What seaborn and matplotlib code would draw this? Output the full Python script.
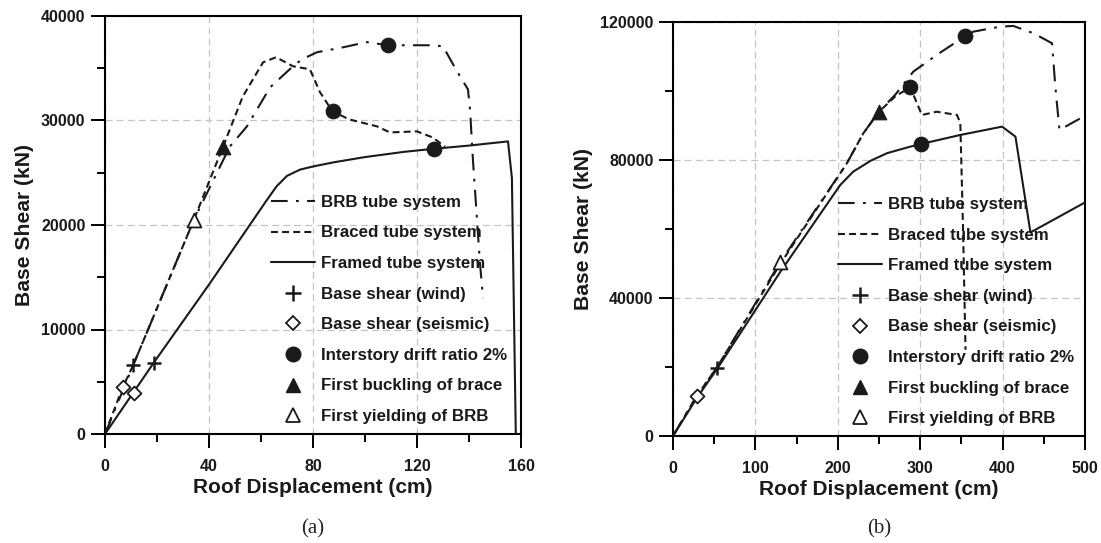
import numpy as np
import pandas as pd
import matplotlib
matplotlib.use("Agg")
import matplotlib.pyplot as plt
import seaborn as sns
from matplotlib.lines import Line2D
from matplotlib.ticker import MultipleLocator

# ---------------- data: panel (a) ----------------
framed_a_x = [0, 18.8, 40, 62, 66, 70, 75, 80, 88, 100, 115, 126.7, 140, 155, 156.5, 158]
framed_a_y = [0, 6840, 14300, 22300, 23700, 24700, 25300, 25600, 26000, 26500, 27000, 27300, 27600, 28000, 24500, 0]
braced_a_x = [0, 6.8, 10.9, 34.2, 45.4, 53, 60.8, 65.8, 72.3, 78.8, 82.7, 87.5, 94, 104.6, 109.6, 120, 126, 130.8]
braced_a_y = [0, 4470, 6620, 20500, 27500, 32300, 35570, 36050, 35190, 34900, 32700, 30870, 30100, 29440, 28860, 28960, 28380, 27500]
brb_a_x = [0, 10.9, 34.2, 48, 54.6, 63.5, 72.3, 75.8, 81.5, 91.5, 100.7, 108.8, 126, 130, 135.4, 139.6, 140.4, 141.5, 143, 144.2, 145.4]
brb_a_y = [0, 6620, 20500, 27500, 29440, 33170, 35190, 35860, 36530, 37000, 37500, 37200, 37200, 37100, 34700, 32980, 31060, 26270, 20800, 16400, 13000]
wind_a_x, wind_a_y = [10.9, 18.8], [6620, 6840]
seis_a_x, seis_a_y = [6.8, 11.3], [4470, 3900]
drift_a_x, drift_a_y = [87.5, 108.8, 126.7], [30870, 37200, 27300]
buck_a_x, buck_a_y = [45.4], [27500]
yield_a_x, yield_a_y = [34.2], [20500]

# ---------------- data: panel (b) ----------------
framed_b_x = [0, 28.8, 53.1, 130, 203, 218.7, 240, 260, 288, 301.3, 348.7, 399.4, 415.6, 433.8, 500]
framed_b_y = [0, 11000, 19300, 47500, 72760, 76620, 79800, 82000, 83870, 84650, 87260, 89670, 86770, 59000, 67700]
braced_b_x = [0, 28.8, 53.1, 130, 211, 231, 250, 270, 288, 302, 320, 344.7, 348.7, 352, 355]
braced_b_y = [0, 11600, 19800, 49800, 79050, 87750, 94000, 98500, 101100, 93050, 94000, 93050, 90650, 60000, 25000]
brb_b_x = [0, 28.8, 53.1, 130, 211, 231, 250, 270, 291.6, 320, 354, 364.5, 397, 413, 437.4, 460, 464, 469, 494.5, 500]
brb_b_y = [0, 11600, 19800, 50350, 79050, 87750, 94000, 99000, 105600, 110450, 115800, 117200, 118650, 118860, 116740, 113840, 101260, 88700, 92100, 93000]
wind_b_x, wind_b_y = [53.1], [19800]
seis_b_x, seis_b_y = [28.8], [11600]
drift_b_x, drift_b_y = [288, 354, 301.3], [101100, 115800, 84650]
buck_b_x, buck_b_y = [250], [94000]
yield_b_x, yield_b_y = [130], [50350]

labels = ["BRB tube system", "Braced tube system", "Framed tube system",
          "Base shear (wind)", "Base shear (seismic)", "Interstory drift ratio 2%",
          "First buckling of brace", "First yielding of BRB"]
captions = ["(a)", "(b)"]

sns.set_theme(style="ticks")
plt.rcParams['font.family'] = ['Liberation Sans', 'DejaVu Sans']
plt.rcParams['lines.scale_dashes'] = False
plt.rcParams['axes.edgecolor'] = 'black'

fig = plt.figure(figsize=(11.01, 5.43), dpi=100)
W, H = 1101, 543
axA = fig.add_axes([105 / W, 1 - 434 / H, 416 / W, 418 / H])
axB = fig.add_axes([673 / W, 1 - 436 / H, 412 / W, 414 / H])

DASH = (0, (5, 3))
DASHDOT = (0, (12, 6, 2, 6))
LW = 1.5
TXT = '#1a1a1a'


def draw(ax, lines, marks, xlim, ylim, xmaj, xmin, ymaj, ymin, leg_anchor):
    ax.grid(True, which='major', color='#c4c4c4', ls=(0, (5, 3)), lw=0.9)
    ax.set_axisbelow(True)
    for (x, y, ls) in lines:
        sns.lineplot(x=x, y=y, sort=False, estimator=None, ax=ax, color='k',
                     lw=LW, linestyle=ls, zorder=3)
    (wx, wy), (sx, sy), (dx, dy), (bx, by), (yx, yy) = marks
    sns.scatterplot(x=wx, y=wy, marker='+', s=110, color='k', linewidth=1.8, ax=ax, zorder=5)
    sns.scatterplot(x=sx, y=sy, marker='D', s=50, facecolor='white', edgecolor='k', linewidth=1.3, ax=ax, zorder=5)
    sns.scatterplot(x=dx, y=dy, marker='o', s=110, color='k', edgecolor='k', ax=ax, zorder=5)
    sns.scatterplot(x=bx, y=by, marker='^', s=110, color='k', edgecolor='k', ax=ax, zorder=5)
    sns.scatterplot(x=yx, y=yy, marker='^', s=100, facecolor='white', edgecolor='k', linewidth=1.3, ax=ax, zorder=5)

    ax.set_xlim(*xlim)
    ax.set_ylim(*ylim)
    ax.xaxis.set_major_locator(MultipleLocator(xmaj))
    ax.xaxis.set_minor_locator(MultipleLocator(xmin))
    ax.yaxis.set_major_locator(MultipleLocator(ymaj))
    ax.yaxis.set_minor_locator(MultipleLocator(ymin))
    for s in ax.spines.values():
        s.set_visible(True)
        s.set_linewidth(1.5)
        s.set_color('black')
    ax.tick_params(axis='both', which='major', direction='out', length=10, width=1.4,
                   color='black', labelsize=11.5, labelcolor=TXT)
    ax.tick_params(axis='both', which='minor', direction='out', length=5.5, width=1.4, color='black')
    ax.tick_params(axis='x', which='major', pad=8)
    ax.tick_params(axis='y', which='major', pad=4)
    for t in ax.get_xticklabels() + ax.get_yticklabels():
        t.set_fontweight('bold')
    ax.set_xlabel("Roof Displacement (cm)", fontsize=15, fontweight='bold', labelpad=3, color=TXT)
    ax.set_ylabel("Base Shear (kN)", fontsize=15.2, fontweight='bold', labelpad=5, color=TXT)

    handles = [
        Line2D([], [], color='k', lw=LW, ls=DASHDOT),
        Line2D([], [], color='k', lw=LW, ls=DASH),
        Line2D([], [], color='k', lw=LW, ls='-'),
        Line2D([], [], color='k', ls='none', marker='+', markersize=11, mew=1.8),
        Line2D([], [], color='k', ls='none', marker='D', markersize=7, mfc='white', mew=1.3),
        Line2D([], [], color='k', ls='none', marker='o', markersize=10.5),
        Line2D([], [], color='k', ls='none', marker='^', markersize=10.5),
        Line2D([], [], color='k', ls='none', marker='^', markersize=10, mfc='white', mew=1.3),
    ]
    leg = ax.legend(handles=handles, labels=labels, loc='upper left', bbox_to_anchor=leg_anchor,
                    frameon=False, prop=dict(weight='bold', size=12.2), handlelength=2.6,
                    handletextpad=0.35, labelspacing=0.92, borderpad=0, borderaxespad=0)
    for t in leg.get_texts():
        t.set_color(TXT)


draw(axA,
     [(brb_a_x, brb_a_y, DASHDOT), (braced_a_x, braced_a_y, DASH), (framed_a_x, framed_a_y, '-')],
     [(wind_a_x, wind_a_y), (seis_a_x, seis_a_y), (drift_a_x, drift_a_y), (buck_a_x, buck_a_y), (yield_a_x, yield_a_y)],
     (0, 160), (0, 40000), 40, 20, 10000, 5000, (0.40, 0.572))
draw(axB,
     [(brb_b_x, brb_b_y, DASHDOT), (braced_b_x, braced_b_y, DASH), (framed_b_x, framed_b_y, '-')],
     [(wind_b_x, wind_b_y), (seis_b_x, seis_b_y), (drift_b_x, drift_b_y), (buck_b_x, buck_b_y), (yield_b_x, yield_b_y)],
     (0, 500), (0, 120000), 100, 50, 40000, 20000, (0.40, 0.577))

fig.text(313 / W, 1 - 529 / H, captions[0], ha='center', va='center', fontsize=15,
         family=['Liberation Serif', 'DejaVu Serif'])
fig.text(879 / W, 1 - 529 / H, captions[1], ha='center', va='center', fontsize=15,
         family=['Liberation Serif', 'DejaVu Serif'])

fig.savefig("out.png", dpi=100)
